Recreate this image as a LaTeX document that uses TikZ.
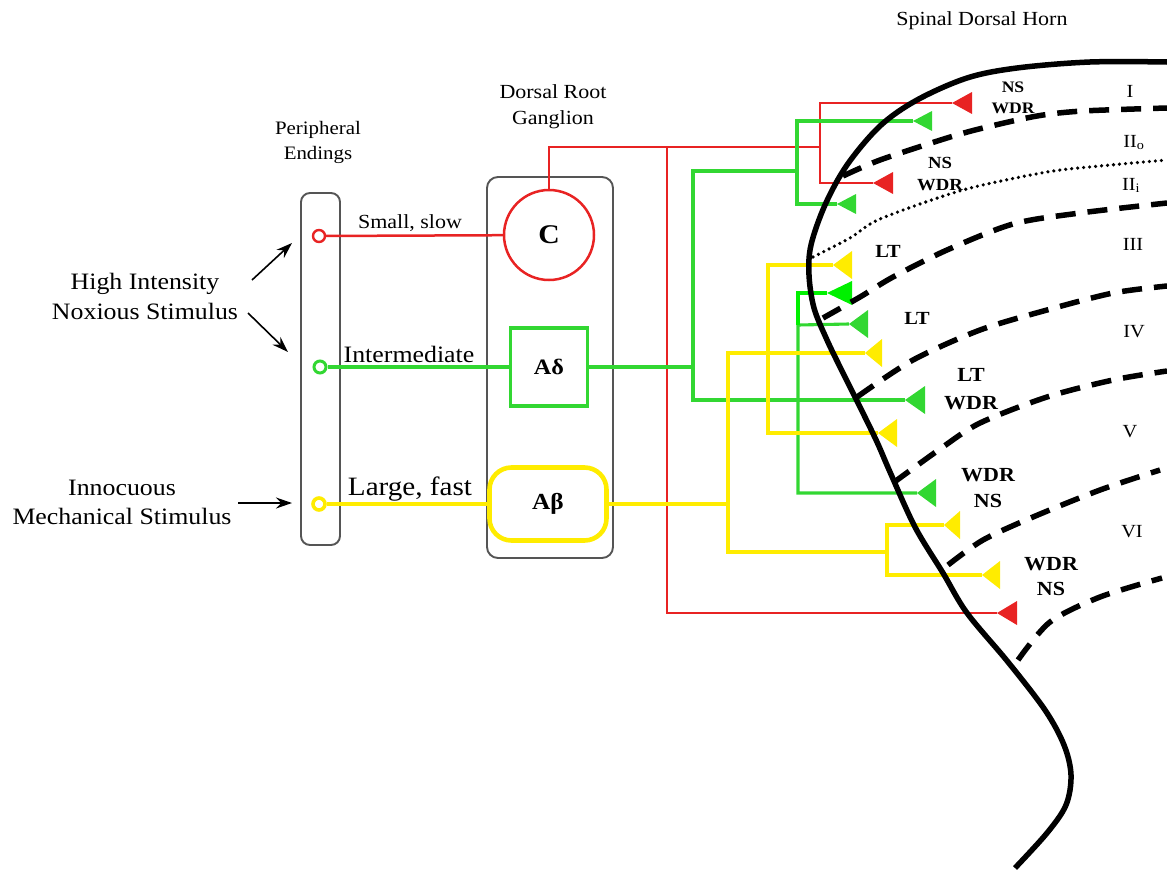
\documentclass[tikz,border=0pt]{standalone}
\usepackage{fontspec}
\setmainfont{Liberation Serif}[FakeStretch=1.1]
\usetikzlibrary{arrows.meta}
\definecolor{nred}{RGB}{232,35,35}
\definecolor{ngreen}{RGB}{50,215,50}
\definecolor{bgreen}{RGB}{0,240,0}
\definecolor{nyellow}{RGB}{255,236,0}
\definecolor{boxgray}{RGB}{85,85,85}
\newcommand\fsz[2]{\fontsize{#1}{#2}\selectfont}
\newcommand\synapse[4]{\fill[#2] (#1) -- ++(#3,-#4) -- ++(0,2*#4) -- cycle;}
\begin{document}
\begin{tikzpicture}[x=1pt,y=-1pt,
  rline/.style={draw=nred,line width=2.5pt},
  gline/.style={draw=ngreen,line width=3.1pt},
  bline/.style={draw=bgreen,line width=3.1pt},
  yline/.style={draw=nyellow,line width=4.6pt},
  frame/.style={draw=boxgray,line width=1.9pt,inner sep=0pt},
  ending/.style={circle,fill=white,minimum size=12pt,inner sep=0pt},
  txt/.style={inner sep=0pt,anchor=north,align=center},
  bold/.style={txt,font=\bfseries#1},
  layer/.style={txt,font=\fsz{18.5}{22}},
  horn/.style={draw=black,line width=5.5pt},
  lamina/.style={draw=black,line width=5.5pt,dash pattern=on 20pt off 12pt},
  laminadot/.style={draw=black,line width=3.6pt,line cap=round,dash pattern=on 0pt off 6pt},
  stim/.style={draw=black,line width=1.6pt,-{Stealth[length=16pt,width=11pt]}}]
\useasboundingbox (0,0) rectangle (1167,870);

% boxes
\node[frame,rounded corners=9pt,minimum width=39pt,minimum height=352pt] (pe) at (320.5,369) {};
\node[frame,rounded corners=11pt,minimum width=126pt,minimum height=381pt] (drg) at (550,367.5) {};

% peripheral endings
\node[ending,draw=nred,line width=2.4pt] (pc) at (319,236) {};
\node[ending,draw=ngreen,line width=3pt] (pd) at (320,367) {};
\node[ending,draw=nyellow,line width=3.6pt] (pb) at (319,504) {};

% ganglion cells
\node[circle,draw=nred,line width=2.5pt,minimum size=90pt,inner sep=0pt,font=\bfseries\fsz{27}{30}] (C) at (549,235) {C};
\node[draw=ngreen,line width=3.1pt,minimum width=77pt,minimum height=78pt,inner sep=0pt,font=\bfseries\fsz{22}{24}] (Ad) at (549,367) {Aδ};
\node[draw=nyellow,line width=4.6pt,rounded corners=22pt,minimum width=117pt,minimum height=73pt,inner sep=0pt,font=\bfseries\fsz{23}{25}] (Ab) at (548,504) {Aβ};

% junctions
\coordinate (rj1) at (667,147);
\coordinate (rj2) at (820,147);
\coordinate (gj1) at (693,367);
\coordinate (gj2) at (797,171);
\coordinate (gj3) at (798,325);
\coordinate (yj1) at (728,504);
\coordinate (yj2) at (887,552);
\coordinate (yk) at (768,350);

% terminals (tips)
\coordinate (rt1) at (952,103);
\coordinate (rt2) at (873,183);
\coordinate (rt3) at (997,613);
\coordinate (gt1) at (913,121);
\coordinate (gt2) at (837,204);
\coordinate (gt3) at (905,400);
\coordinate (gt4) at (849,324);
\coordinate (gt5) at (917,493);
\coordinate (bt)  at (827,293);
\coordinate (yt0) at (833,265);
\coordinate (yt1) at (865,353);
\coordinate (yt2) at (944,525);
\coordinate (yt3) at (982,575);
\coordinate (yt4) at (878,433);

% red fibre (C)
\draw[rline] (pc) -- (C);
\draw[rline] (C.north) |- (rj1) -- (rj2);
\draw[rline] (rt1) -| (rj2) |- (rt2);
\draw[rline] (rj1) |- (rt3);

% green fibre (A delta)
\draw[gline] (pd) -- (Ad);
\draw[gline] (Ad) -- (gj1);
\draw[gline] (gt3) -| (gj1) |- (gj2);
\draw[gline] (gt1) -| (gj2) |- (gt2);
\draw[gline] (gt4) -- (gj3) |- (gt5);
\draw[bline] (bt) -| (gj3);

% yellow fibre (A beta)
\draw[yline] (pb) -- (Ab);
\draw[yline] (Ab) -- (yj1);
\draw[yline] (yt1) -| (yj1) |- (yj2);
\draw[yline] (yt2) -| (yj2) |- (yt3);
\draw[yline] (yt0) -| (yk) |- (yt4);

% synaptic terminals
\synapse{rt1}{nred}{20}{11}
\synapse{rt2}{nred}{20}{11}
\synapse{rt3}{nred}{20}{12}
\synapse{gt1}{ngreen}{19}{10}
\synapse{gt2}{ngreen}{19}{10}
\synapse{gt3}{ngreen}{20}{14}
\synapse{gt4}{ngreen}{19}{14}
\synapse{gt5}{ngreen}{19}{14}
\synapse{bt}{bgreen}{25}{12}
\synapse{yt0}{nyellow}{19}{14}
\synapse{yt1}{nyellow}{17}{14}
\synapse{yt2}{nyellow}{16}{14}
\synapse{yt3}{nyellow}{18}{14}
\synapse{yt4}{nyellow}{19}{14}

% dorsal horn outline and laminae
\draw[horn] plot[smooth,tension=0.55] coordinates {(1167,62) (1090,62) (1017,68) (967,78) (917,100) (880,126) (847,165) (825,205) (811,245) (809,275) (814,308) (827,340) (843,373) (860,407) (877,442) (890,472) (915,527) (943,573) (967,613) (1008,662) (1045,710) (1064,745) (1071,775) (1066,805) (1047,833) (1015,868)};
\draw[lamina] plot[smooth,tension=0.5] coordinates {(843,176) (880,160) (947,138) (983,128) (1037,116) (1083,111) (1167,108)};
\draw[laminadot] plot[smooth,tension=0.5] coordinates {(813,257) (850,238) (880,219) (963,190) (1047,172) (1100,166) (1167,160)};
\draw[lamina] plot[smooth,tension=0.5] coordinates {(823,318) (860,297) (893,277) (947,250) (1013,224) (1080,213) (1167,203)};
\draw[lamina] plot[smooth,tension=0.5] coordinates {(857,397) (913,360) (980,330) (1047,310) (1113,293) (1167,286)};
\draw[lamina] plot[smooth,tension=0.5] coordinates {(893,483) (940,449) (980,423) (1047,397) (1113,380) (1167,371)};
\draw[lamina] plot[smooth,tension=0.5] coordinates {(948,565) (983,540) (1033,517) (1100,490) (1160,470)};
\draw[lamina] plot[smooth,tension=0.5] coordinates {(1018,660) (1050,622) (1100,597) (1162,578)};

% stimuli
\node[txt,font=\fsz{23.5}{30}] (hi) at (145,273) {High Intensity\\Noxious Stimulus};
\node[txt,font=\fsz{23.5}{29}] (inn) at (122,480) {Innocuous\\Mechanical Stimulus};
\coordinate (a1s) at (252,280); \coordinate (a1e) at (292,243);
\coordinate (a2s) at (248,313); \coordinate (a2e) at (288,352);
\coordinate (a3s) at (238,503); \coordinate (a3e) at (292,503);
\draw[stim] (a1s) -- (a1e);
\draw[stim] (a2s) -- (a2e);
\draw[stim] (a3s) -- (a3e);

% headings
\node[txt,font=\fsz{19}{25}] (pelbl) at (318,121) {Peripheral\\Endings};
\node[txt,font=\fsz{20}{26}] (drglbl) at (553,84) {Dorsal Root\\Ganglion};
\node[txt,font=\fsz{20}{24}] (sdh) at (982,11) {Spinal Dorsal Horn};

% fibre labels
\node[txt,font=\fsz{20}{24}] (l1) at (410,214) {Small, slow};
\node[txt,font=\fsz{23.5}{26}] (l2) at (409,346) {Intermediate};
\node[txt,font=\fsz{26.5}{30}] (l3) at (410,477) {Large, fast};

% neuron classes
\node[bold={\fsz{16}{21}}] (n1) at (1013,82) {NS\\WDR};
\node[bold={\fsz{17}{22}}] (n2) at (940,157) {NS\\WDR};
\node[bold={\fsz{18.5}{22}}] (n3) at (888,245) {LT};
\node[bold={\fsz{18.5}{22}}] (n4) at (917,312) {LT};
\node[bold={\fsz{20}{28}}] (n5) at (971,368) {LT\\WDR};
\node[bold={\fsz{20}{26}}] (n6) at (988,468) {WDR\\NS};
\node[bold={\fsz{20}{25}}] (n7) at (1051,557) {WDR\\NS};

% laminae labels
\node[layer] (L1) at (1130,85) {I};
\node[layer] (L2) at (1134,135) {II\textsubscript{o}};
\node[layer] (L3) at (1131,178) {II\textsubscript{i}};
\node[layer] (L4) at (1133,238) {III};
\node[layer] (L5) at (1134,325) {IV};
\node[layer] (L6) at (1130,425) {V};
\node[layer] (L7) at (1132,525) {VI};
\end{tikzpicture}
\end{document}
